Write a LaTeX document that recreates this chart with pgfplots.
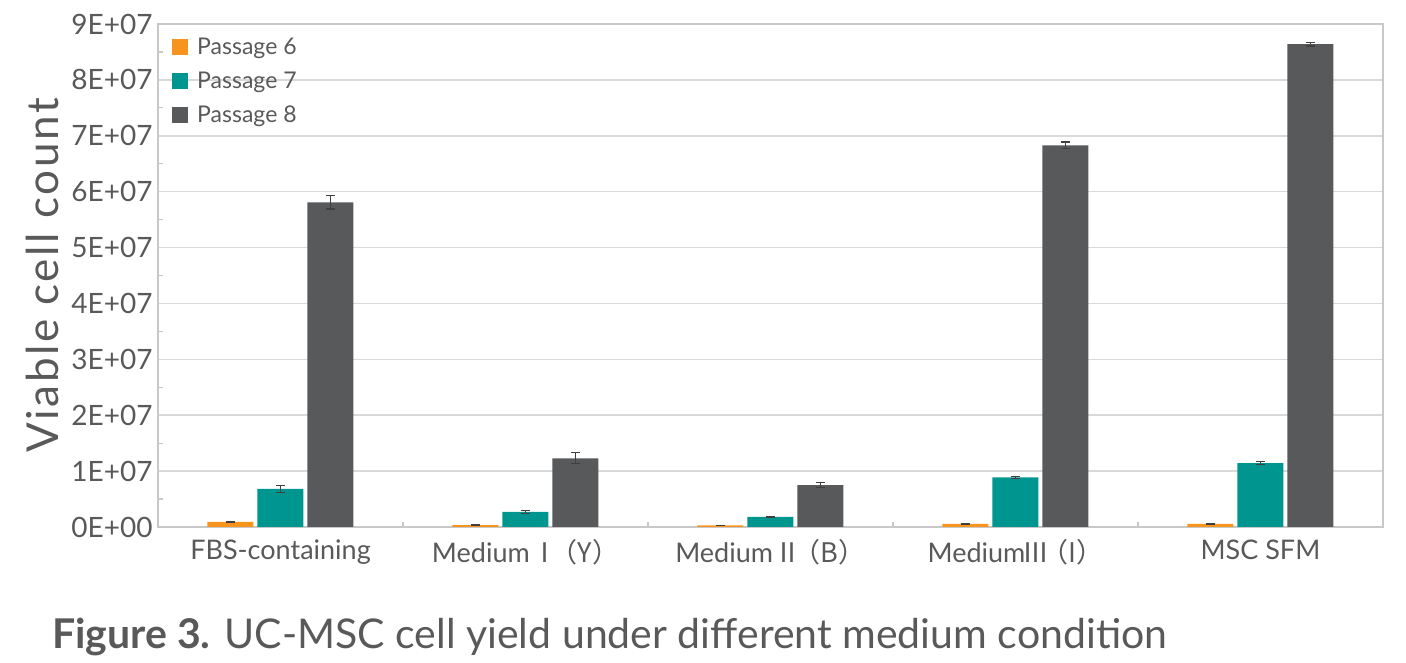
\documentclass[border=0pt]{standalone}
\usepackage{pgfplots}
\pgfplotsset{compat=1.18}
\usepackage{fontspec}
\setmainfont{Lato}
\newfontfamily\spaced[LetterSpace=6]{Lato}
\newfontfamily\cjk{Noto Sans CJK SC}
\definecolor{cOr}{HTML}{F7941D}
\definecolor{cTe}{HTML}{009690}
\definecolor{cDk}{HTML}{58595B}
\definecolor{txt}{HTML}{595959}
\definecolor{gridc}{HTML}{D9D9D9}
\definecolor{axc}{HTML}{C8C8C8}
\begin{document}
\begin{tikzpicture}
\useasboundingbox (0,0) rectangle (1406bp,663bp);
\begin{axis}[
  at={(158bp,136bp)}, anchor=south west,
  scale only axis, width=1225bp, height=503bp,
  ybar=4bp, bar width=46bp,
  xmin=-0.5, xmax=4.5, ymin=0, ymax=9e7,
  xtick={0,1,2,3,4},
  xticklabels={FBS-containing, Medium {\cjk\kern-5bp Ⅰ\kern-8bp（Y）}, Medium {\cjk\kern-5bp Ⅱ\kern-8bp（B）}, Medium{\cjk\kern-3bp Ⅲ\kern-8bp（I）}, MSC SFM},
  minor xtick={0.5,1.5,2.5,3.5},
  ytick={0,1e7,2e7,3e7,4e7,5e7,6e7,7e7,8e7,9e7},
  yticklabels={\mbox{0E+00},\mbox{1E+07},\mbox{2E+07},\mbox{3E+07},\mbox{4E+07},\mbox{5E+07},\mbox{6E+07},\mbox{7E+07},\mbox{8E+07},\mbox{9E+07}},
  minor y tick num=1,
  ytick pos=left, xtick pos=bottom,
  scaled y ticks=false,
  major tick length=0pt, minor tick length=5bp,
  tick align=inside,
  every minor tick/.style={draw=axc, line width=1.2bp},
  ymajorgrids, grid style={draw=gridc, line width=1.5bp},
  axis line style={draw=axc, line width=1.5bp},
  yticklabel style={font=\fontsize{28bp}{32bp}\selectfont, text=txt, xshift=-2bp},
  xticklabel style={font=\fontsize{27bp}{32bp}\selectfont, text=txt, yshift=-9bp},
  ylabel={\spaced Viable cell count},
  ylabel style={font=\fontsize{44bp}{50bp}\selectfont, text=txt, at={(axis description cs:-0.094,0.5)}, anchor=center},
  legend style={at={(axis description cs:0.009,0.98)}, anchor=north west, draw=none, fill=none,
    font=\fontsize{23bp}{27bp}\selectfont, text=txt, row sep=12bp, nodes={inner sep=2bp}},
  legend cell align=left,
  legend image code/.code={\path[#1,draw=none] (0bp,-8bp) rectangle (16bp,8bp); \path (23bp,0bp);},
  error bars/y dir=both, error bars/y explicit,
  error bars/error bar style={draw=black!75, line width=1.2bp},
  error bars/error mark options={rotate=90, mark size=4.5bp, draw=black!75, line width=1.2bp},
]
\addplot[fill=cOr, draw=none] coordinates {(0,9e5)+-(0,5e4) (1,3.5e5)+-(0,5e4) (2,3e5)+-(0,3e4) (3,5.5e5)+-(0,8e4) (4,5.5e5)+-(0,5e4)};
\addplot[fill=cTe, draw=none] coordinates {(0,6.8e6)+-(0,6e5) (1,2.7e6)+-(0,3e5) (2,1.8e6)+-(0,1e5) (3,8.9e6)+-(0,2e5) (4,1.145e7)+-(0,3e5)};
\addplot[fill=cDk, draw=none] coordinates {(0,5.81e7)+-(0,1.2e6) (1,1.23e7)+-(0,1e6) (2,7.5e6)+-(0,4e5) (3,6.83e7)+-(0,6e5) (4,8.64e7)+-(0,3.5e5)};
\legend{Passage 6, Passage 7, Passage 8}
\end{axis}
\node[anchor=base west, text=txt, font=\fontsize{41bp}{46bp}\selectfont, inner sep=0pt] at (52bp,15bp) {\textbf{Figure 3.} UC-MSC cell yield under different medium condition};
\end{tikzpicture}
\end{document}
